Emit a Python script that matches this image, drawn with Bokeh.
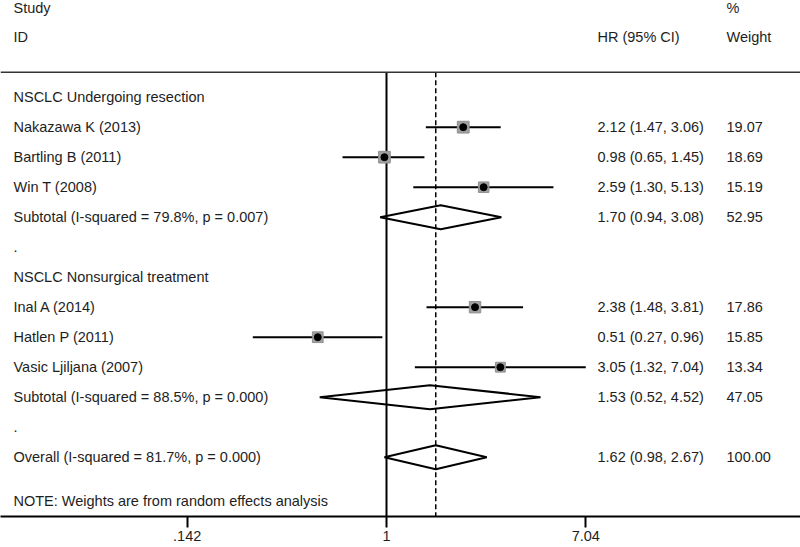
import math
from bokeh.plotting import figure
from bokeh.models import Range1d, FixedTicker, ColumnDataSource, Span
from bokeh.core.properties import value
from bokeh.embed import file_html
from bokeh.resources import INLINE

# ---------------- data ----------------
group_titles = ["NSCLC Undergoing resection", "NSCLC Nonsurgical treatment"]

study_ids = ["Nakazawa K (2013)", "Bartling B (2011)", "Win T (2008)",
             "Inal A (2014)", "Hatlen P (2011)", "Vasic Ljiljana (2007)"]
study_group = [0, 0, 0, 1, 1, 1]
study_hr = [2.12, 0.98, 2.59, 2.38, 0.51, 3.05]
study_lo = [1.47, 0.65, 1.30, 1.48, 0.27, 1.32]
study_hi = [3.06, 1.45, 5.13, 3.81, 0.96, 7.04]
study_weight = [19.07, 18.69, 15.19, 17.86, 15.85, 13.34]

sub_labels = ["Subtotal  (I-squared = 79.8%, p = 0.007)",
              "Subtotal  (I-squared = 88.5%, p = 0.000)"]
sub_hr = [1.70, 1.53]
sub_lo = [0.94, 0.52]
sub_hi = [3.08, 4.52]
sub_weight = [52.95, 47.05]

overall_label = "Overall  (I-squared = 81.7%, p = 0.000)"
overall_hr = 1.62
overall_lo = 0.98
overall_hi = 2.67
overall_weight = 100.00

note_text = "NOTE: Weights are from random effects analysis"

tick_values = [0.142, 1, 7.04]
tick_labels = [".142", "1", "7.04"]

# ---------------- layout helpers ----------------
FONT = value("Liberation Sans")
FS = "14.5px"
TXT = "#1e1e1e"
PX1 = 386.0          # page x of HR = 1
PX_PER_LN = 102.1    # pixels per natural-log unit
FRAME_L, FRAME_R = 0.0, 800.0


def hr_at(page_x):
    return math.exp((page_x - PX1) / PX_PER_LN)


X_LEFT = hr_at(13)
X_HR = hr_at(597)
X_W = hr_at(726)

Y_TOP, Y_BOT = -3.223, 13.977

# build row layout
left_txt, left_y = [], []
study_rows, sub_rows = [], []
r = 0
for g, title in enumerate(group_titles):
    left_txt.append(title); left_y.append(r); r += 1
    for i, grp in enumerate(study_group):
        if grp == g:
            left_txt.append(study_ids[i]); left_y.append(r)
            study_rows.append(r); r += 1
    left_txt.append(sub_labels[g]); left_y.append(r); sub_rows.append(r); r += 1
    left_txt.append("."); left_y.append(r); r += 1
overall_row = r
left_txt.append(overall_label); left_y.append(overall_row)
left_txt.append(note_text); left_y.append(overall_row + 1.47)

header_line_y = -0.833

p = figure(width=800, height=547, x_axis_type="log",
           x_range=Range1d(hr_at(FRAME_L), hr_at(FRAME_R)),
           y_range=Range1d(Y_BOT, Y_TOP),
           output_backend="svg", toolbar_location=None,
           y_axis_location=None, min_border_left=0, min_border_right=0,
           min_border_top=0, min_border_bottom=31)
p.outline_line_color = None
p.xgrid.visible = False
p.ygrid.visible = False
p.background_fill_color = "white"

ax = p.xaxis[0]
ax.ticker = FixedTicker(ticks=tick_values)
ax.major_label_overrides = {v: s for v, s in zip(tick_values, tick_labels)}
ax.axis_line_width = 2
ax.axis_line_color = "black"
ax.major_tick_in = 0
ax.major_tick_out = 11
ax.major_tick_line_width = 2
ax.major_tick_line_color = "black"
ax.minor_tick_line_color = None
ax.major_label_standoff = 3
ax.major_label_text_font = "Liberation Sans"
ax.major_label_text_font_size = FS
ax.major_label_text_color = TXT

# header line
p.add_layout(Span(location=header_line_y, dimension="width",
                  line_color="#333333", line_width=1.5))

# null line and overall dashed line
p.segment(x0=[1], x1=[1], y0=[header_line_y], y1=[Y_BOT],
          line_color="black", line_width=2)
p.segment(x0=[overall_hr], x1=[overall_hr], y0=[header_line_y], y1=[Y_BOT],
          line_color="black", line_width=1.5, line_dash="5 3")

# study CIs, squares, points
src = ColumnDataSource(dict(hr=study_hr, lo=study_lo, hi=study_hi, y=study_rows,
                            size=[2.7 * math.sqrt(w) for w in study_weight]))
p.segment(x0="lo", x1="hi", y0="y", y1="y", source=src,
          line_color="black", line_width=2)
p.scatter(x="hr", y="y", size="size", marker="square", source=src,
          fill_color="#a0a0a0", line_color="#909090", line_width=1)
p.scatter(x="hr", y="y", size=7, marker="circle", source=src,
          fill_color="black", line_color="black")

# diamonds
d_hr = sub_hr + [overall_hr]
d_lo = sub_lo + [overall_lo]
d_hi = sub_hi + [overall_hi]
d_y = sub_rows + [overall_row]
h = 0.4
xs = [[lo, c, hi, c] for lo, c, hi in zip(d_lo, d_hr, d_hi)]
ys = [[y, y - h, y, y + h] for y in d_y]
p.patches(xs, ys, fill_alpha=0, line_color="black", line_width=2)

# left text column
p.text(x=X_LEFT, y=left_y, text=left_txt, text_font=FONT, text_font_size=FS,
       text_color=TXT, text_baseline="middle", text_align="left")

# headers
p.text(x=X_LEFT, y=[-2.98, -2.0], text=["Study", "ID"], text_font=FONT,
       text_font_size=FS, text_color=TXT, text_baseline="middle")
p.text(x=X_HR, y=[-2.0], text=["HR (95% CI)"], text_font=FONT,
       text_font_size=FS, text_color=TXT, text_baseline="middle")
p.text(x=X_W, y=[-2.98, -2.0], text=["%", "Weight"], text_font=FONT,
       text_font_size=FS, text_color=TXT, text_baseline="middle")

# right columns
all_hr = study_hr + sub_hr + [overall_hr]
all_lo = study_lo + sub_lo + [overall_lo]
all_hi = study_hi + sub_hi + [overall_hi]
all_w = study_weight + sub_weight + [overall_weight]
all_y = study_rows + sub_rows + [overall_row]
hr_txt = [f"{a:.2f} ({b:.2f}, {c:.2f})" for a, b, c in zip(all_hr, all_lo, all_hi)]
w_txt = [f"{w:.2f}" for w in all_w]
p.text(x=X_HR, y=all_y, text=hr_txt, text_font=FONT, text_font_size=FS,
       text_color=TXT, text_baseline="middle")
p.text(x=X_W, y=all_y, text=w_txt, text_font=FONT, text_font_size=FS,
       text_color=TXT, text_baseline="middle")

open("out.html", "w").write(file_html(p, INLINE))
